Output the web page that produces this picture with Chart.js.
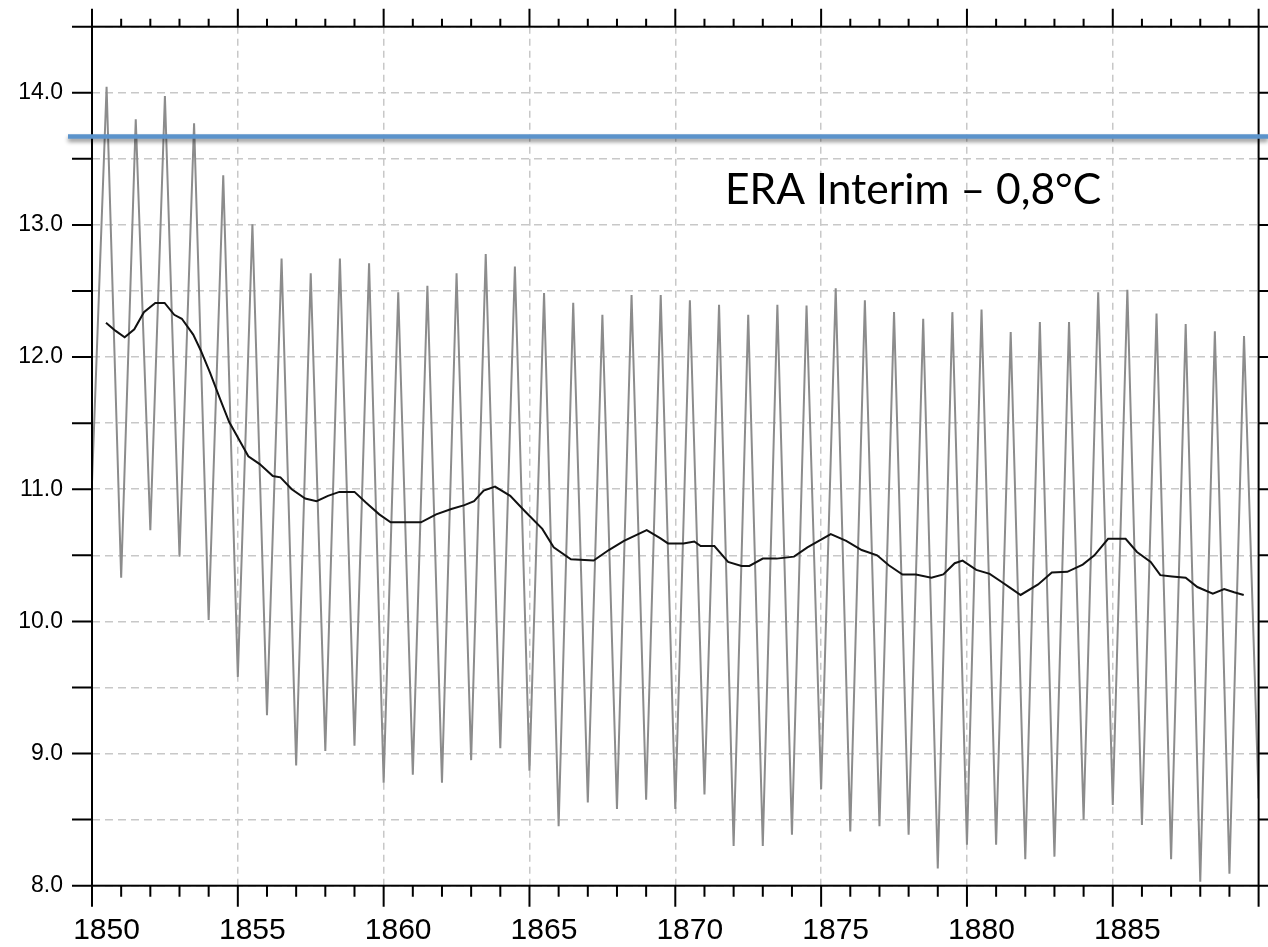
<!DOCTYPE html>
<html>
<head>
<meta charset="utf-8">
<script src="https://cdn.jsdelivr.net/npm/chart.js@4.4.0/dist/chart.umd.min.js"></script>
<style>
  html, body { margin: 0; padding: 0; background: #fff; }
  canvas { display: block; }
</style>
</head>
<body>
<canvas id="myChart" width="1268" height="947"></canvas>
<script>
// years of the monthly record (each one gives a winter low and a summer peak)
const years = [1850, 1851, 1852, 1853, 1854, 1855, 1856, 1857, 1858, 1859,
  1860, 1861, 1862, 1863, 1864, 1865, 1866, 1867, 1868, 1869,
  1870, 1871, 1872, 1873, 1874, 1875, 1876, 1877, 1878, 1879,
  1880, 1881, 1882, 1883, 1884, 1885, 1886, 1887, 1888, 1889];

// january values, 1850 .. 1890 (last one is the right edge)
const winterLow = [11.05, 10.33, 10.69, 10.49, 10.01, 9.58, 9.29, 8.91, 9.02, 9.06,
  8.78, 8.84, 8.78, 8.95, 9.04, 8.87, 8.45, 8.63, 8.58, 8.65,
  8.58, 8.69, 8.30, 8.30, 8.385, 8.73, 8.41, 8.45, 8.385, 8.13,
  8.31, 8.31, 8.20, 8.22, 8.50, 8.61, 8.46, 8.20, 8.03, 8.09,
  8.66];

// summer maxima, one per year
const summerPeak = [14.045, 13.80, 13.975, 13.77, 13.375, 13.005, 12.745, 12.635, 12.745, 12.71,
  12.49, 12.54, 12.635, 12.78, 12.685, 12.485, 12.41, 12.32, 12.47, 12.47,
  12.43, 12.395, 12.32, 12.395, 12.39, 12.52, 12.43, 12.34, 12.29, 12.34,
  12.36, 12.19, 12.265, 12.265, 12.49, 12.51, 12.33, 12.25, 12.195, 12.16];
const peakOffset = 0.5; // peaks sit in mid-year

// 12-month running mean (black curve)
const meanYears = [1850.48, 1850.80, 1851.12, 1851.45, 1851.78, 1852.17, 1852.49, 1852.82, 1853.08, 1853.47,
  1853.73, 1854.05, 1854.38, 1854.70, 1855.03, 1855.36, 1855.75, 1856.20, 1856.46, 1856.85,
  1857.31, 1857.70, 1858.09, 1858.48, 1859.00, 1859.39, 1859.85, 1860.24, 1860.82, 1861.28,
  1861.80, 1862.32, 1862.77, 1863.10, 1863.43, 1863.82, 1864.34, 1864.86, 1865.44, 1865.83,
  1866.42, 1867.20, 1867.72, 1868.24, 1869.02, 1869.48, 1869.75, 1870.28, 1870.65, 1870.87,
  1871.34, 1871.81, 1872.27, 1872.54, 1873.00, 1873.47, 1874.07, 1874.53, 1875.33, 1875.86,
  1876.39, 1876.92, 1877.32, 1877.79, 1878.25, 1878.78, 1879.19, 1879.58, 1879.85, 1880.32,
  1880.78, 1881.18, 1881.51, 1881.84, 1882.44, 1882.91, 1883.44, 1883.97, 1884.37, 1884.84,
  1885.44, 1885.83, 1886.30, 1886.63, 1887.03, 1887.50, 1887.90, 1888.43, 1888.82, 1889.16,
  1889.49];
const meanValues = [12.26, 12.20, 12.15, 12.21, 12.34, 12.41, 12.41, 12.32, 12.29, 12.17,
  12.05, 11.88, 11.69, 11.51, 11.38, 11.25, 11.19, 11.10, 11.09, 11.00,
  10.93, 10.91, 10.95, 10.98, 10.98, 10.90, 10.81, 10.75, 10.75, 10.75,
  10.81, 10.85, 10.88, 10.91, 10.99, 11.02, 10.95, 10.83, 10.70, 10.56,
  10.47, 10.46, 10.54, 10.61, 10.69, 10.63, 10.59, 10.59, 10.605, 10.57,
  10.57, 10.45, 10.42, 10.42, 10.475, 10.475, 10.49, 10.56, 10.66, 10.61,
  10.54, 10.50, 10.425, 10.355, 10.355, 10.33, 10.355, 10.44, 10.46, 10.39,
  10.36, 10.30, 10.25, 10.20, 10.28, 10.37, 10.375, 10.43, 10.50, 10.625,
  10.625, 10.525, 10.45, 10.35, 10.34, 10.33, 10.26, 10.21, 10.245, 10.22,
  10.20];

// ERA Interim reference level
const eraLevel = 13.67;
const eraText = "ERA Interim \u2013 0,8\u00B0C";

const xMin = 1850, xMax = 1890;
const yMin = 8.0, yMax = 14.5;

let monthly = [];
for (var i = 0; i < years.length; i++) {
  monthly.push({ x: years[i], y: winterLow[i] });
  monthly.push({ x: years[i] + peakOffset, y: summerPeak[i] });
}
monthly.push({ x: xMax, y: winterLow[winterLow.length - 1] });

let meanPts = [];
for (var j = 0; j < meanYears.length; j++) {
  meanPts.push({ x: meanYears[j], y: meanValues[j] });
}

function noPad(s) {
  s.paddingTop = 0; s.paddingBottom = 0;
  s.paddingLeft = 0; s.paddingRight = 0;
}

/* ---------- frame, tick marks and the annotation ---------- */
const framePlugin = {
  id: 'frame',
  afterDatasetsDraw(chart) {
    const ctx = chart.ctx;
    const a = chart.chartArea;
    const xs = chart.scales.x;
    const ys = chart.scales.y;

    ctx.save();
    ctx.strokeStyle = '#000';
    ctx.lineWidth = 2;
    ctx.beginPath();

    // y ticks, outward on both sides
    ys.ticks.forEach(t => {
      const py = ys.getPixelForValue(t.value);
      ctx.moveTo(a.left - 20, py); ctx.lineTo(a.left, py);
      ctx.moveTo(a.right, py); ctx.lineTo(a.right + 14, py);
    });

    // x ticks: one per year, longer every 5 years
    for (var yr = xMin; yr <= xMax; yr++) {
      const px = xs.getPixelForValue(yr);
      const major = (yr % 5 === 0);
      ctx.moveTo(px, a.bottom); ctx.lineTo(px, a.bottom + (major ? 21 : 11));
      ctx.moveTo(px, a.top); ctx.lineTo(px, a.top - (major ? 18 : 8));
    }
    ctx.stroke();

    ctx.strokeRect(a.left, a.top, a.right - a.left, a.bottom - a.top);

    // blue ERA line with its soft shadow
    const by = ys.getPixelForValue(eraLevel);
    ctx.shadowColor = 'rgba(0,0,0,0.45)';
    ctx.shadowBlur = 4;
    ctx.shadowOffsetY = 3;
    ctx.strokeStyle = '#5b93cb';
    ctx.lineWidth = 4.5;
    ctx.beginPath();
    ctx.moveTo(a.left - 24, by);
    ctx.lineTo(chart.width, by);
    ctx.stroke();
    ctx.restore();

    ctx.save();
    let size = 44;
    ctx.font = size + 'px Lato, "Open Sans", sans-serif';
    const w = ctx.measureText(eraText).width;
    size = size * 376 / w;
    ctx.font = size.toFixed(1) + 'px Lato, "Open Sans", sans-serif';
    ctx.fillStyle = '#000';
    ctx.textBaseline = 'alphabetic';
    ctx.textAlign = 'left';
    ctx.fillText(eraText, 725, 204);
    ctx.restore();
  }
};

const ctx = document.getElementById('myChart').getContext('2d');
const myChart = new Chart(ctx, {
  type: 'line',
  data: {
    datasets: [{
      label: 'running mean',
      data: meanPts,
      borderColor: '#111',
      borderWidth: 2,
      pointRadius: 0,
      tension: 0,
      order: 0
    }, {
      label: 'monthly',
      data: monthly,
      borderColor: '#8c8c8c',
      borderWidth: 2,
      pointRadius: 0,
      tension: 0,
      order: 1
    }]
  },
  options: {
    responsive: false,
    animation: false,
    layout: { padding: { top: 26.7, right: 9.4, left: 0, bottom: 0 } },
    plugins: {
      legend: { display: false },
      tooltip: { enabled: false }
    },
    scales: {
      x: {
        type: 'linear',
        position: 'bottom',
        min: xMin,
        max: xMax,
        afterFit: (s) => { s.height = 61.3; noPad(s); },
        ticks: {
          stepSize: 5,
          autoSkip: false,
          maxRotation: 0,
          padding: 27,
          labelOffset: 14.5,
          color: '#000',
          font: { family: '"Liberation Sans", Arial, sans-serif', size: 30 },
          callback: (v) => (v >= xMax ? null : String(v))
        },
        grid: { color: '#c8c8c8', lineWidth: 1.5, drawTicks: false },
        border: { display: false, dash: [7, 5] }
      },
      y: {
        type: 'linear',
        min: yMin,
        max: yMax,
        afterFit: (s) => { s.width = 92; noPad(s); },
        ticks: {
          stepSize: 0.5,
          padding: 29,
          color: '#000',
          font: { family: '"Liberation Sans", Arial, sans-serif', size: 23 },
          callback: (v) => (Math.abs(v - Math.round(v)) < 1e-6 ? v.toFixed(1) : '')
        },
        grid: { color: '#c8c8c8', lineWidth: 1.5, drawTicks: false },
        border: { display: false, dash: [8, 5] }
      }
    }
  },
  plugins: [framePlugin]
});
</script>
</body>
</html>
